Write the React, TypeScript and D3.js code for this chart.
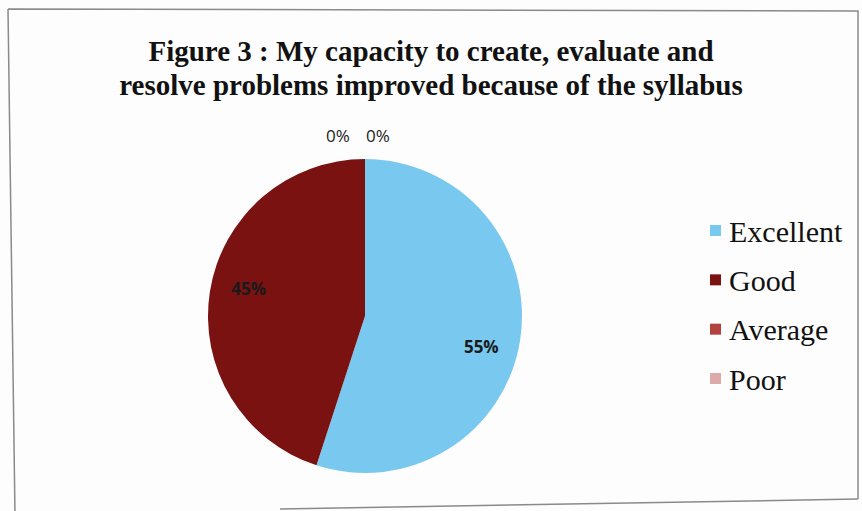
import React from "react";
import * as d3 from "d3";

const categories = ["Excellent", "Good", "Average", "Poor"];
const values = [55, 45, 0, 0];
const colors = ["#78c8ef", "#7a1212", "#b3413f", "#dcaaa9"];
const titleLines = [
  "Figure 3 : My capacity to create, evaluate and",
  "resolve problems improved because of the syllabus",
];

const W = 862;
const H = 511;

export default function App() {
  const cx = 365;
  const cy = 316;
  const r = 157;
  const total = d3.sum(values);
  const pie = d3.pie<number>().sort(null).value((d) => d);
  const arcs = pie(values);
  const arcGen = d3.arc<d3.PieArcDatum<number>>().innerRadius(0).outerRadius(r);
  const labelArc = d3
    .arc<d3.PieArcDatum<number>>()
    .innerRadius(r * 0.75)
    .outerRadius(r * 0.75);
  const fmt = (v: number) => `${Math.round((v / total) * 100)}%`;
  const legendY = d3
    .scalePoint<string>()
    .domain(categories)
    .range([231, 379]);

  const zeroIdx = arcs.map((a, i) => (a.value === 0 ? i : -1)).filter((i) => i >= 0);

  return (
    <svg
      width={W}
      height={H}
      style={{ position: "absolute", left: 0, top: 0, background: "#fdfdfd" }}
    >
      <path
        d="M8,9 L858,11 L858,499 M8,9 L15,515"
        fill="none"
        stroke="#8a8a8a"
        strokeWidth={1.5}
      />
      <line x1={280} y1={509} x2={858} y2={499} stroke="#8a8a8a" strokeWidth={1.5} />
      {titleLines.map((t, i) => (
        <text
          key={i}
          x={431}
          y={61 + i * 34}
          textAnchor="middle"
          fontFamily="'Liberation Serif', 'Times New Roman', serif"
          fontWeight="bold"
          fontSize={29}
          fill="#111"
        >
          {t}
        </text>
      ))}
      <g transform={`translate(${cx},${cy})`}>
        {arcs.map((a, i) =>
          a.value > 0 ? <path key={i} d={arcGen(a) || ""} fill={colors[i]} /> : null
        )}
        {arcs.map((a, i) => {
          if (a.value === 0) return null;
          const [x, y] = labelArc.centroid(a);
          return (
            <text
              key={"l" + i}
              x={x}
              y={y + (i === 0 ? 12 : -9)}
              textAnchor="middle"
              dominantBaseline="central"
              fontFamily="'Open Sans', 'DejaVu Sans', sans-serif"
              fontWeight="bold"
              fontSize={17}
              fill="#1a1a1a"
            >
              {fmt(a.value)}
            </text>
          );
        })}
        {zeroIdx.map((i, k) => {
          const a = arcs[i];
          const ang = a.startAngle;
          const rr = r + 24;
          const x = Math.sin(ang) * rr + (k === 0 ? -20 : 20) - 7;
          const y = -Math.cos(ang) * rr;
          return (
            <text
              key={"z" + i}
              x={x}
              y={y}
              textAnchor="middle"
              dominantBaseline="central"
              fontFamily="'Open Sans', 'DejaVu Sans', sans-serif"
              fontSize={17}
              fill="#222"
            >
              {fmt(a.value)}
            </text>
          );
        })}
      </g>
      {categories.map((c, i) => (
        <g key={c} transform={`translate(710,${legendY(c)})`}>
          <rect x={0} y={-6} width={11} height={11} fill={colors[i]} />
          <text
            x={19}
            y={0}
            dominantBaseline="central"
            fontFamily="'Liberation Serif', 'Times New Roman', serif"
            fontSize={30}
            fill="#111"
          >
            {c}
          </text>
        </g>
      ))}
    </svg>
  );
}
